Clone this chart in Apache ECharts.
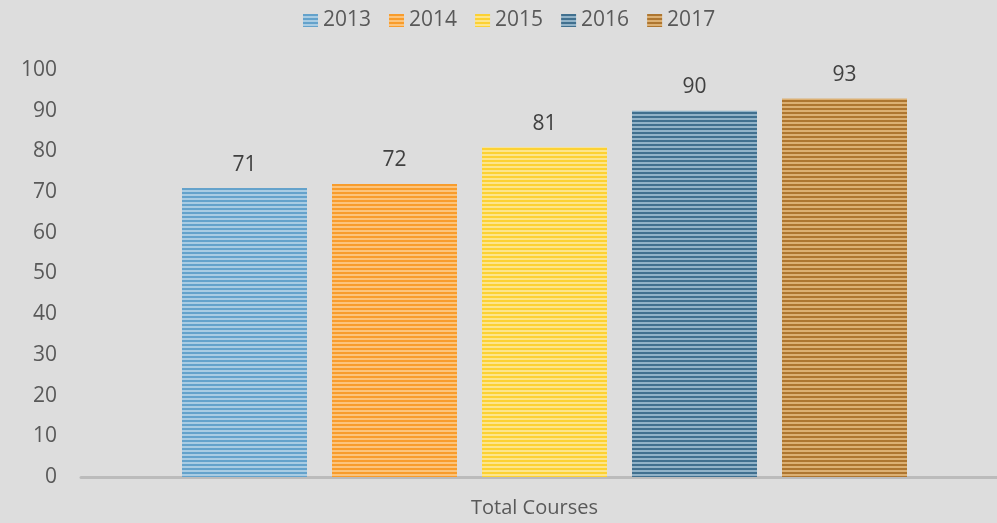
<!DOCTYPE html>
<html>
<head>
<meta charset="utf-8">
<script src="https://cdn.jsdelivr.net/npm/echarts@6/dist/echarts.min.js"></script>
<style>
html, body { margin: 0; padding: 0; background: #dddddd; }
#echart { width: 997px; height: 523px; }
</style>
</head>
<body>
<div id="echart"></div>
<script>
var categories = ['Total Courses'];
var years = ['2013', '2014', '2015', '2016', '2017'];
var values = [71, 72, 81, 90, 93];
var yTicks = [0, 10, 20, 30, 40, 50, 60, 70, 80, 90, 100];

// stripe colors: [dark, light]
var stripes = [
    ['#64a2cb', '#a9cce3'],
    ['#f89c2c', '#fcc47c'],
    ['#fcd133', '#fde58c'],
    ['#41708f', '#92b3c8'],
    ['#ae7630', '#dcb073']
];

function makePattern(c) {
    var cv = document.createElement('canvas');
    cv.width = 8;
    cv.height = 4;
    var ctx = cv.getContext('2d');
    ctx.fillStyle = c[1];
    ctx.fillRect(0, 0, 8, 4);
    ctx.fillStyle = c[0];
    ctx.fillRect(0, 0, 8, 2);
    return { image: cv, repeat: 'repeat' };
}

var myChart = echarts.init(document.getElementById('echart'));
var series = [];
for (var i = 0; i < years.length; i++) {
    series.push({
        name: years[i],
        type: 'bar',
        barWidth: 125,
        barGap: '20%',
        itemStyle: { color: makePattern(stripes[i]) },
        label: {
            show: true,
            position: 'top',
            distance: 13,
            color: '#404040',
            fontSize: 21,
            fontFamily: 'Open Sans'
        },
        data: [values[i]]
    });
}

var option = {
    backgroundColor: '#dddddd',
    animation: false,
    legend: {
        top: 5,
        left: 298,
        icon: 'rect',
        itemWidth: 15,
        itemHeight: 13,
        itemGap: 18,
        textStyle: { color: '#595959', fontSize: 21, fontFamily: 'Open Sans' },
        data: years
    },
    grid: { left: 81, right: -11, top: 70, bottom: 46, outerBoundsMode: 'none' },
    xAxis: {
        type: 'category',
        data: categories,
        axisLine: { lineStyle: { color: '#bbbbbb', width: 3 } },
        axisTick: { show: false },
        axisLabel: {
            color: '#595959', fontSize: 20, fontFamily: 'Open Sans',
            margin: 21, padding: [0, 20, 0, 0]
        }
    },
    yAxis: {
        type: 'value',
        min: yTicks[0],
        max: yTicks[yTicks.length - 1],
        interval: 10,
        axisLine: { show: false },
        axisTick: { show: false },
        splitLine: { show: false },
        axisLabel: { color: '#595959', fontSize: 21, fontFamily: 'Open Sans', margin: 24 }
    },
    series: series
};
myChart.setOption(option);
</script>
</body>
</html>
